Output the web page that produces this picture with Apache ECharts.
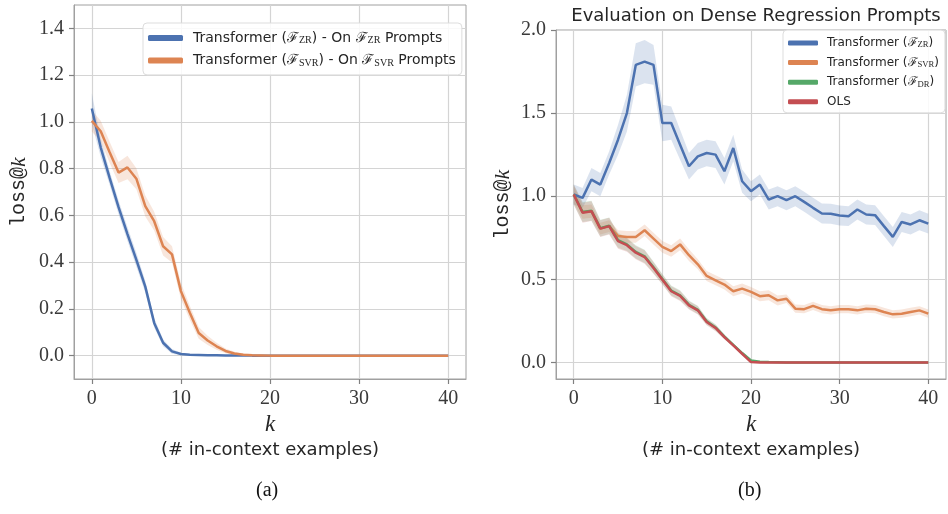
<!DOCTYPE html>
<html>
<head>
<meta charset="utf-8">
<script src="https://cdn.jsdelivr.net/npm/echarts@6/dist/echarts.min.js"></script>
<style>html,body{margin:0;padding:0;background:#fff}#c{width:948px;height:514px}</style>
</head>
<body>
<div id="c"></div>
<script>
// ---------- data ----------
const kValues = Array.from({length: 41}, (_, i) => i); // 0..40 in-context examples

// (a) left panel
const leftZR = [1.057,0.89,0.76,0.635,0.52,0.41,0.295,0.14,0.055,0.018,0.007,0.004,0.003,0.002,0.002,0.001,0.001,0.001,0,0,0,0,0,0,0,0,0,0,0,0,0,0,0,0,0,0,0,0,0,0,0];
const leftZRErr = [0.065,0.04,0.03,0.03,0.03,0.03,0.025,0.02,0.015,0.01,0.005,0.003,0.003,0.002,0.002,0.002,0.002,0.001,0.001,0.001,0.001,0.001,0.001,0.001,0.001,0.001,0.001,0.001,0.001,0.001,0.001,0.001,0.001,0.001,0.001,0.001,0.001,0.001,0.001,0.001,0.001];
const leftSVR = [1.004,0.96,0.87,0.783,0.805,0.757,0.64,0.575,0.468,0.433,0.276,0.183,0.097,0.065,0.04,0.02,0.009,0.004,0.002,0.001,0,0,0,0,0,0,0,0,0,0,0,0,0,0,0,0,0,0,0,0,0];
const leftSVRErr = [0.045,0.045,0.045,0.045,0.05,0.045,0.045,0.04,0.04,0.035,0.035,0.03,0.025,0.02,0.015,0.01,0.008,0.005,0.003,0.002,0.001,0.001,0.001,0.001,0.001,0.001,0.001,0.001,0.001,0.001,0.001,0.001,0.001,0.001,0.001,0.001,0.001,0.001,0.001,0.001,0.001];

// (b) right panel
const rightZR = [1.01,0.99,1.10,1.07,1.20,1.34,1.50,1.79,1.81,1.79,1.44,1.44,1.31,1.18,1.24,1.26,1.25,1.15,1.29,1.09,1.03,1.07,0.98,1.00,0.976,1.00,0.966,0.93,0.896,0.894,0.884,0.88,0.92,0.89,0.886,0.82,0.755,0.845,0.83,0.855,0.835];
const rightZRErr = [0.06,0.06,0.07,0.07,0.07,0.09,0.11,0.13,0.13,0.12,0.11,0.1,0.09,0.08,0.08,0.08,0.08,0.08,0.08,0.07,0.06,0.06,0.06,0.06,0.06,0.06,0.06,0.06,0.06,0.06,0.06,0.06,0.06,0.06,0.06,0.06,0.06,0.06,0.06,0.06,0.06];
const rightSVR = [1.01,0.905,0.91,0.805,0.82,0.76,0.755,0.755,0.795,0.745,0.695,0.67,0.71,0.645,0.59,0.52,0.494,0.468,0.428,0.444,0.424,0.398,0.404,0.373,0.383,0.323,0.32,0.34,0.32,0.313,0.32,0.32,0.313,0.323,0.32,0.303,0.289,0.293,0.303,0.313,0.293];
const rightSVRErr = [0.05,0.04,0.04,0.035,0.035,0.035,0.035,0.035,0.035,0.035,0.035,0.035,0.035,0.035,0.03,0.03,0.03,0.03,0.03,0.03,0.03,0.03,0.03,0.03,0.025,0.025,0.025,0.025,0.025,0.025,0.025,0.025,0.025,0.025,0.025,0.025,0.025,0.025,0.025,0.025,0.025];
const rightDR = [1.01,0.905,0.912,0.808,0.822,0.735,0.71,0.665,0.638,0.572,0.502,0.432,0.404,0.347,0.316,0.247,0.21,0.155,0.105,0.056,0.012,0.004,0.002,0.001,0,0,0,0,0,0,0,0,0,0,0,0,0,0,0,0,0];
const rightDRErr = [0.06,0.06,0.06,0.05,0.05,0.045,0.04,0.04,0.04,0.035,0.03,0.03,0.03,0.025,0.025,0.02,0.02,0.015,0.01,0.01,0.004,0.002,0.001,0,0,0,0,0,0,0,0,0,0,0,0,0,0,0,0,0,0];
const rightOLS = [1.01,0.90,0.91,0.805,0.82,0.729,0.705,0.66,0.634,0.568,0.498,0.428,0.40,0.343,0.313,0.243,0.207,0.152,0.102,0.052,0.002,0,0,0,0,0,0,0,0,0,0,0,0,0,0,0,0,0,0,0,0];
const rightOLSErr = [0.06,0.06,0.06,0.05,0.05,0.045,0.04,0.04,0.04,0.035,0.03,0.03,0.03,0.025,0.025,0.02,0.02,0.015,0.01,0.01,0.002,0,0,0,0,0,0,0,0,0,0,0,0,0,0,0,0,0,0,0,0];

// tick labels
const xTicks = [0, 10, 20, 30, 40];
const leftYTicks = [0.0, 0.2, 0.4, 0.6, 0.8, 1.0, 1.2, 1.4];
const rightYTicks = [0.0, 0.5, 1.0, 1.5, 2.0];

// text
const rightTitle = 'Evaluation on Dense Regression Prompts';
const leftNames = ['Transformer (F_ZR) - On F_ZR Prompts', 'Transformer (F_SVR) - On F_SVR Prompts'];
const rightNames = ['Transformer (F_ZR)', 'Transformer (F_SVR)', 'Transformer (F_DR)', 'OLS'];

// ---------- styling ----------
const C = {blue: '#4C72B0', orange: '#DD8452', green: '#55A868', red: '#C44E52'};
const bandAlpha = {blue: 'rgba(76,114,176,0.2)', orange: 'rgba(221,132,82,0.2)', green: 'rgba(85,168,104,0.2)', red: 'rgba(196,78,82,0.2)'};
const SERIF = '"Liberation Serif","DejaVu Serif",serif';
const SANS = '"DejaVu Sans","Noto Sans",sans-serif';
const MONO = '"Liberation Mono","DejaVu Sans Mono",monospace';

function richName(name) {
  return name.replace(/F_([A-Z]+)/g, '{f|ℱ}{s|$1}');
}

function pairs(vals) { return vals.map((v, i) => [kValues[i], v]); }

// confidence band drawn as one polygon through the axis scales
function band(id, vals, err, color, xi) {
  const data = vals.map((v, i) => [kValues[i], v - err[i], v + err[i]]);
  return {
    name: '_band_' + id, type: 'custom', xAxisIndex: xi, yAxisIndex: xi, silent: true, z: 1,
    data: data,
    encode: {x: 0, y: [1, 2]},
    renderItem: function (params, api) {
      if (params.dataIndex !== 0) return null;
      const upper = data.map(d => api.coord([d[0], d[2]]));
      const lower = data.map(d => api.coord([d[0], d[1]])).reverse();
      return {
        type: 'polygon',
        shape: {points: upper.concat(lower)},
        style: {fill: color, stroke: null}
      };
    }
  };
}

function mainLine(name, vals, color, xi, z) {
  return {name: name, type: 'line', xAxisIndex: xi, yAxisIndex: xi, data: pairs(vals),
    symbol: 'none', lineStyle: {color: color, width: 2.5}, itemStyle: {color: color}, z: z};
}

function xAxisCfg(gi) {
  return {
    type: 'value', gridIndex: gi, min: -2, max: 42,
    axisLine: {show: true, onZero: false, lineStyle: {color: '#a0a0a0', width: 1}},
    axisTick: {show: true, length: 5, customValues: xTicks, lineStyle: {color: '#808080', width: 1.2}},
    axisLabel: {customValues: xTicks, fontFamily: SERIF, fontSize: 20, color: '#3a3a3a', margin: 10},
    splitLine: {show: true, lineStyle: {color: '#d4d4d4', width: 1.2}},
    name: '{k|k}\n{d|(# in-context examples)}', nameLocation: 'middle', nameGap: 34,
    nameTextStyle: {rich: {
      k: {fontFamily: SERIF, fontStyle: 'italic', fontSize: 23, color: '#262626', lineHeight: 24},
      d: {fontFamily: SANS, fontSize: 18, color: '#262626', lineHeight: 26}
    }}
  };
}

function yAxisCfg(gi, min, max, ticks, gap) {
  return {
    type: 'value', gridIndex: gi, min: min, max: max,
    axisLine: {show: true, onZero: false, lineStyle: {color: '#a0a0a0', width: 1}},
    axisTick: {show: true, length: 5, customValues: ticks, lineStyle: {color: '#808080', width: 1.2}},
    axisLabel: {customValues: ticks, fontFamily: SERIF, fontSize: 20, color: '#3a3a3a', margin: 10,
      formatter: v => v.toFixed(1)},
    splitLine: {show: true, lineStyle: {color: '#d4d4d4', width: 1.2}},
    name: '{m|loss@}{i|k}', nameLocation: 'middle', nameGap: gap, nameRotate: 90,
    nameTextStyle: {rich: {
      m: {fontFamily: MONO, fontSize: 20, color: '#262626'},
      i: {fontFamily: SERIF, fontStyle: 'italic', fontSize: 22, color: '#262626'}
    }}
  };
}

const legendRich = (fs) => ({
  f: {fontFamily: '"DejaVu Serif",serif', fontSize: fs, color: '#262626'},
  s: {fontFamily: SERIF, fontSize: fs * 0.72, color: '#262626', verticalAlign: 'bottom', padding: [fs * 0.35, 0, 0, 0]}
});

const series = [
  band('lzr', leftZR, leftZRErr, bandAlpha.blue, 0),
  band('lsvr', leftSVR, leftSVRErr, bandAlpha.orange, 0),
  mainLine(leftNames[0], leftZR, C.blue, 0, 3),
  mainLine(leftNames[1], leftSVR, C.orange, 0, 3),
  band('rzr', rightZR, rightZRErr, bandAlpha.blue, 1),
  band('rsvr', rightSVR, rightSVRErr, bandAlpha.orange, 1),
  band('rdr', rightDR, rightDRErr, bandAlpha.green, 1),
  band('rols', rightOLS, rightOLSErr, bandAlpha.red, 1),
  mainLine(rightNames[0], rightZR, C.blue, 1, 3),
  mainLine(rightNames[1], rightSVR, C.orange, 1, 3),
  mainLine(rightNames[2], rightDR, C.green, 1, 3),
  mainLine(rightNames[3], rightOLS, C.red, 1, 3)
];

const option = {
  backgroundColor: '#ffffff',
  animation: false,
  title: [{
    text: rightTitle, left: 751, top: 2, textAlign: 'center',
    textStyle: {fontFamily: SANS, fontSize: 18, fontWeight: 'normal', color: '#262626'}
  }],
  grid: [
    {left: 74, top: 5, width: 392, height: 374, show: true, borderColor: '#a0a0a0', borderWidth: 1, backgroundColor: 'transparent'},
    {left: 556, top: 30, width: 390, height: 349, show: true, borderColor: '#a0a0a0', borderWidth: 1, backgroundColor: 'transparent'}
  ],
  xAxis: [xAxisCfg(0), xAxisCfg(1)],
  yAxis: [yAxisCfg(0, -0.1, 1.5, leftYTicks, 44), yAxisCfg(1, -0.1, 2.0, rightYTicks, 42)],
  legend: [
    {
      data: leftNames, orient: 'vertical', left: 143, top: 23,
      itemWidth: 35, itemHeight: 6, itemGap: 8, icon: 'roundRect',
      backgroundColor: 'rgba(255,255,255,0.85)', borderColor: '#dddddd', borderWidth: 1, borderRadius: 4,
      padding: [8, 6, 7, 5],
      formatter: n => richName(n),
      textStyle: {fontFamily: SANS, fontSize: 14, color: '#262626', padding: [0, 0, 0, 5], rich: legendRich(14)}
    },
    {
      data: rightNames, orient: 'vertical', left: 783, top: 30,
      itemWidth: 30, itemHeight: 5, itemGap: 7, icon: 'roundRect',
      backgroundColor: 'rgba(255,255,255,0.85)', borderColor: '#dddddd', borderWidth: 1, borderRadius: 4,
      padding: [7, 6, 5, 5],
      formatter: n => richName(n),
      textStyle: {fontFamily: SANS, fontSize: 12, color: '#262626', padding: [0, 0, 0, 4], rich: legendRich(12)}
    }
  ],
  graphic: [
    {type: 'text', left: 256, top: 481, style: {text: '(a)', font: '20px ' + SERIF, fill: '#111'}},
    {type: 'text', left: 738, top: 481, style: {text: '(b)', font: '20px ' + SERIF, fill: '#111'}}
  ],
  series: series
};

const chart = echarts.init(document.getElementById('c'));
chart.setOption(option);
</script>
</body>
</html>
